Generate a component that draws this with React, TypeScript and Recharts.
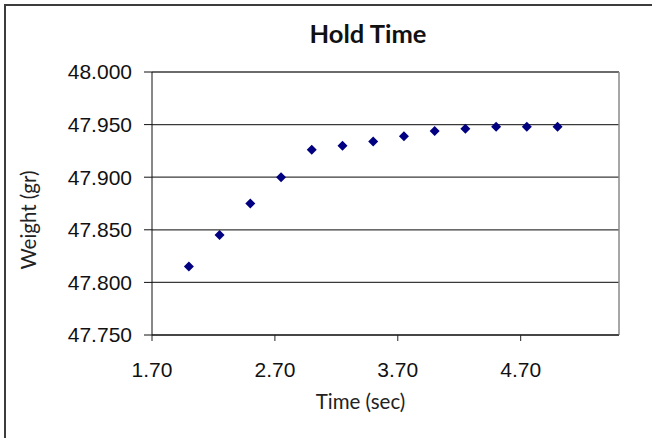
import { ScatterChart, Scatter, XAxis, YAxis, CartesianGrid, ReferenceLine } from 'recharts';

const times = [2.0, 2.25, 2.5, 2.75, 3.0, 3.25, 3.5, 3.75, 4.0, 4.25, 4.5, 4.75, 5.0];
const weights = [47.815, 47.845, 47.875, 47.9, 47.926, 47.93, 47.934, 47.939, 47.944, 47.946, 47.948, 47.948, 47.948];

const xTicks = [1.7, 2.7, 3.7, 4.7];
const yTicks = [47.75, 47.8, 47.85, 47.9, 47.95, 48.0];
const xMax = 5.5;

const data = times.map((t, i) => ({ time: t, weight: weights[i] }));

const Diamond = (props: any) => {
    const { cx, cy } = props;
    const r = 5;
    return (
        <polygon
            points={`${cx},${cy - r} ${cx + r},${cy} ${cx},${cy + r} ${cx - r},${cy}`}
            fill="#000080"
        />
    );
};

const tickStyle = { fontFamily: '"Liberation Sans", Arial, sans-serif', fontSize: 21, fill: '#111' };

const App = () => {
    return (
        <div style={{ position: 'absolute', left: 0, top: 0, width: 652, height: 438, background: '#fff' }}>
            <div
                style={{
                    position: 'absolute', left: 4, top: 4, width: 646, height: 432,
                    borderLeft: '2px solid #3c3c3c', borderTop: '2px solid #3c3c3c'
                }}
            />
            <ScatterChart width={652} height={438} margin={{ top: 72, right: 33, bottom: 63, left: 0 }}>
                <CartesianGrid vertical={false} stroke="#3a3a3a" strokeWidth={1.3} />
                <XAxis
                    type="number"
                    dataKey="time"
                    domain={[1.7, xMax]}
                    ticks={xTicks}
                    tickFormatter={(v: number) => v.toFixed(2)}
                    height={40}
                    tickSize={6}
                    tickMargin={21}
                    stroke="#222"
                    tick={tickStyle}
                    allowDataOverflow
                />
                <YAxis
                    type="number"
                    dataKey="weight"
                    domain={[47.75, 48.0]}
                    ticks={yTicks}
                    tickFormatter={(v: number) => v.toFixed(3)}
                    width={152}
                    tickSize={8}
                    tickMargin={12}
                    stroke="#111"
                    tick={tickStyle}
                    allowDataOverflow
                />
                <ReferenceLine x={xMax} stroke="#8a8a8a" strokeWidth={1.5} />
                <Scatter data={data} shape={Diamond} isAnimationActive={false} />
            </ScatterChart>
            <svg width={652} height={438} style={{ position: 'absolute', left: 0, top: 0, pointerEvents: 'none' }}>
                <text x={368} y={43} textAnchor="middle" fontFamily="Lato, sans-serif" fontWeight="bold" fontSize={25.5} fill="#111">
                    Hold Time
                </text>
                <text x={360.5} y={409} textAnchor="middle" fontFamily="Lato, sans-serif" fontSize={20.5} fill="#222">
                    Time (sec)
                </text>
                <text
                    x={36}
                    y={220}
                    textAnchor="middle"
                    fontFamily="Lato, sans-serif"
                    fontSize={20.5}
                    fill="#222"
                    transform="rotate(-90, 36, 220)"
                >
                    Weight (gr)
                </text>
            </svg>
        </div>
    );
};

export default App;
